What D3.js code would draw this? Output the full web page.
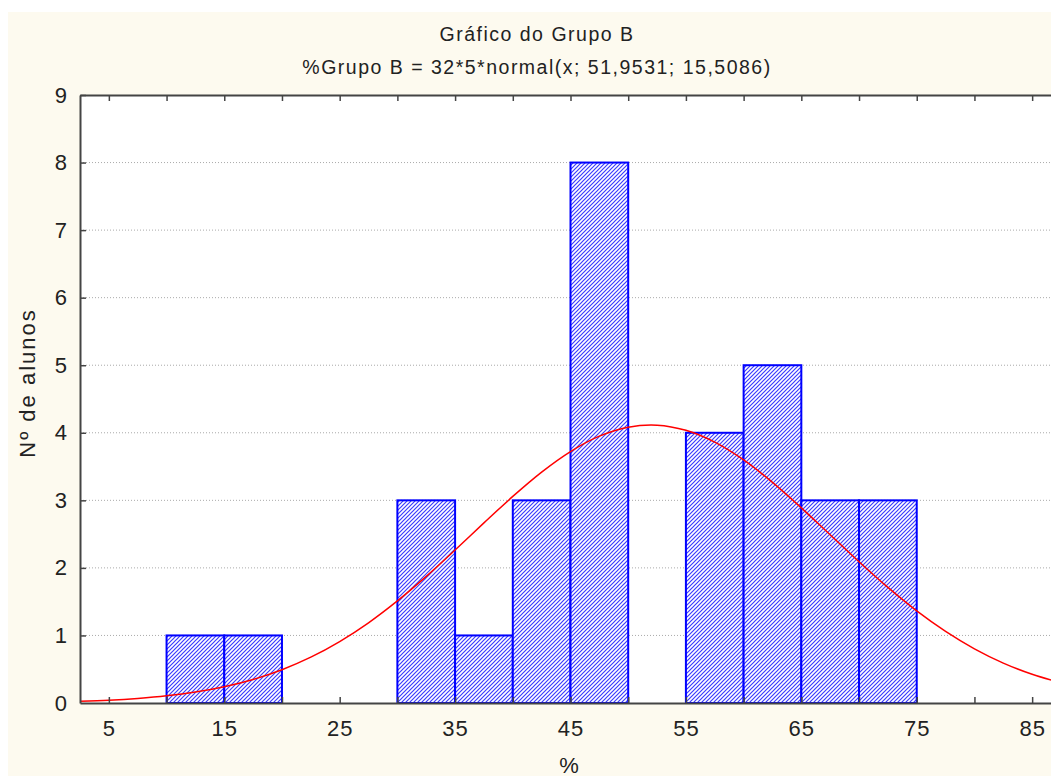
<!DOCTYPE html>
<html>
<head>
<meta charset="utf-8">
<script src="https://cdn.jsdelivr.net/npm/d3@7"></script>
<style>
  html, body { margin: 0; padding: 0; background: #ffffff; }
  svg { display: block; }
  text { font-family: "Liberation Sans", Arial, sans-serif; fill: #222; }
</style>
</head>
<body>
<script>
// ---- data ----
const titleLines = ["Gráfico do Grupo B", "%Grupo B = 32*5*normal(x; 51,9531; 15,5086)"];
const xTitle = "%";
const yTitle = "Nº de alunos";
const binStarts = [10, 15, 30, 35, 40, 45, 55, 60, 65, 70];
const binWidth = 5;
const counts = [1, 1, 3, 1, 3, 8, 4, 5, 3, 3];
const curveX = [2.5, 5, 7.5, 10, 12.5, 15, 17.5, 20, 22.5, 25, 27.5, 30, 32.5, 35, 37.5, 40, 42.5, 45, 47.5, 50, 52.5, 55, 57.5, 60, 62.5, 65, 67.5, 70, 72.5, 75, 77.5, 80, 82.5, 85, 87.5];
const curveY = [0.026, 0.042, 0.068, 0.106, 0.162, 0.241, 0.349, 0.493, 0.678, 0.909, 1.187, 1.511, 1.874, 2.265, 2.666, 3.058, 3.418, 3.722, 3.950, 4.083, 4.113, 4.037, 3.861, 3.598, 3.266, 2.889, 2.490, 2.091, 1.711, 1.364, 1.060, 0.802, 0.591, 0.425, 0.298];
const xTickValues = [5, 10, 15, 20, 25, 30, 35, 40, 45, 50, 55, 60, 65, 70, 75, 80, 85];
const xTickLabels = ["5", "", "15", "", "25", "", "35", "", "45", "", "55", "", "65", "", "75", "", "85"];
const yTickValues = [0, 1, 2, 3, 4, 5, 6, 7, 8, 9];
const xDomain = [2.5, 87.5];
const yDomain = [0, 9];

// ---- layout ----
const W = 1051, H = 778;
const pL = 80, pR = 1061, pT = 95, pB = 703;

const svg = d3.select("body").append("svg").attr("width", W).attr("height", H);

svg.append("rect").attr("x", 8).attr("y", 12).attr("width", W - 8).attr("height", 764).attr("fill", "#fdfaef");
svg.append("rect").attr("x", pL).attr("y", pT).attr("width", pR - pL).attr("height", pB - pT).attr("fill", "#ffffff");

const x = d3.scaleLinear().domain(xDomain).range([pL, pR]);
const y = d3.scaleLinear().domain(yDomain).range([pB, pT]);

const defs = svg.append("defs");
defs.append("clipPath").attr("id", "plotclip").append("rect")
  .attr("x", pL).attr("y", pT).attr("width", pR - pL).attr("height", pB - pT);
const pat = defs.append("pattern").attr("id", "hatch").attr("patternUnits", "userSpaceOnUse")
  .attr("width", 4).attr("height", 4);
pat.append("rect").attr("width", 4).attr("height", 4).attr("fill", "#ffffff");
pat.append("path").attr("d", "M0,4 L4,0 M-1,1 L1,-1 M3,5 L5,3")
  .attr("fill", "none").attr("stroke", "#3a3aff").attr("stroke-width", 1.2);

// gridlines
svg.append("g").selectAll("line").data(yTickValues.filter(v => v > 0 && v < 9)).join("line")
  .attr("x1", pL).attr("x2", pR).attr("y1", d => y(d)).attr("y2", d => y(d))
  .attr("stroke", "#aaaaaa").attr("stroke-width", 1).attr("stroke-dasharray", "1,2");

// bars
const plot = svg.append("g").attr("clip-path", "url(#plotclip)");
plot.selectAll("rect.bar").data(binStarts).join("rect").attr("class", "bar")
  .attr("x", d => x(d)).attr("width", d => x(d + binWidth) - x(d))
  .attr("y", (d, i) => y(counts[i])).attr("height", (d, i) => y(0) - y(counts[i]))
  .attr("fill", "url(#hatch)").attr("stroke", "#0000ff").attr("stroke-width", 2);

// curve
const pts = curveX.map((v, i) => [v, curveY[i]]);
plot.append("path").datum(pts)
  .attr("d", d3.line().x(d => x(d[0])).y(d => y(d[1])).curve(d3.curveCatmullRom))
  .attr("fill", "none").attr("stroke", "#ff0000").attr("stroke-width", 1.5);

// axes
const axisColor = "#444444";
const gx = svg.append("g").attr("transform", `translate(0,${pB})`)
  .call(d3.axisBottom(x).tickValues(xTickValues).tickSizeInner(-6).tickSizeOuter(0).tickPadding(17)
    .tickFormat((d, i) => xTickLabels[i]));
const gt = svg.append("g").attr("transform", `translate(0,${pT})`)
  .call(d3.axisTop(x).tickValues(xTickValues).tickSizeInner(-6).tickSizeOuter(0).tickFormat(""));
const gy = svg.append("g").attr("transform", `translate(${pL},0)`)
  .call(d3.axisLeft(y).tickValues(yTickValues).tickSizeInner(-6).tickSizeOuter(0).tickPadding(12)
    .tickFormat(d3.format("d")));
[gx, gt, gy].forEach(g => {
  g.select(".domain").attr("stroke", axisColor).attr("stroke-width", 2);
  g.selectAll(".tick line").attr("stroke", axisColor).attr("stroke-width", 1.5);
  g.selectAll(".tick text").attr("font-size", 22).attr("font-family", "Liberation Sans, Arial, sans-serif")
    .attr("fill", "#222").attr("letter-spacing", 1);
});
gy.selectAll(".tick line").filter(d => d === 0).remove();

// titles
svg.append("text").attr("x", 537).attr("y", 41).attr("text-anchor", "middle")
  .attr("font-size", 19.5).attr("letter-spacing", 1.5).text(titleLines[0]);
svg.append("text").attr("x", 537).attr("y", 74).attr("text-anchor", "middle")
  .attr("font-size", 19.5).attr("letter-spacing", 1.5).text(titleLines[1]);
svg.append("text").attr("x", 569).attr("y", 773).attr("text-anchor", "middle")
  .attr("font-size", 22).text(xTitle);
svg.append("text").attr("transform", "translate(35,383) rotate(-90)").attr("text-anchor", "middle")
  .attr("font-size", 22).attr("letter-spacing", 2).text(yTitle);
</script>
</body>
</html>
